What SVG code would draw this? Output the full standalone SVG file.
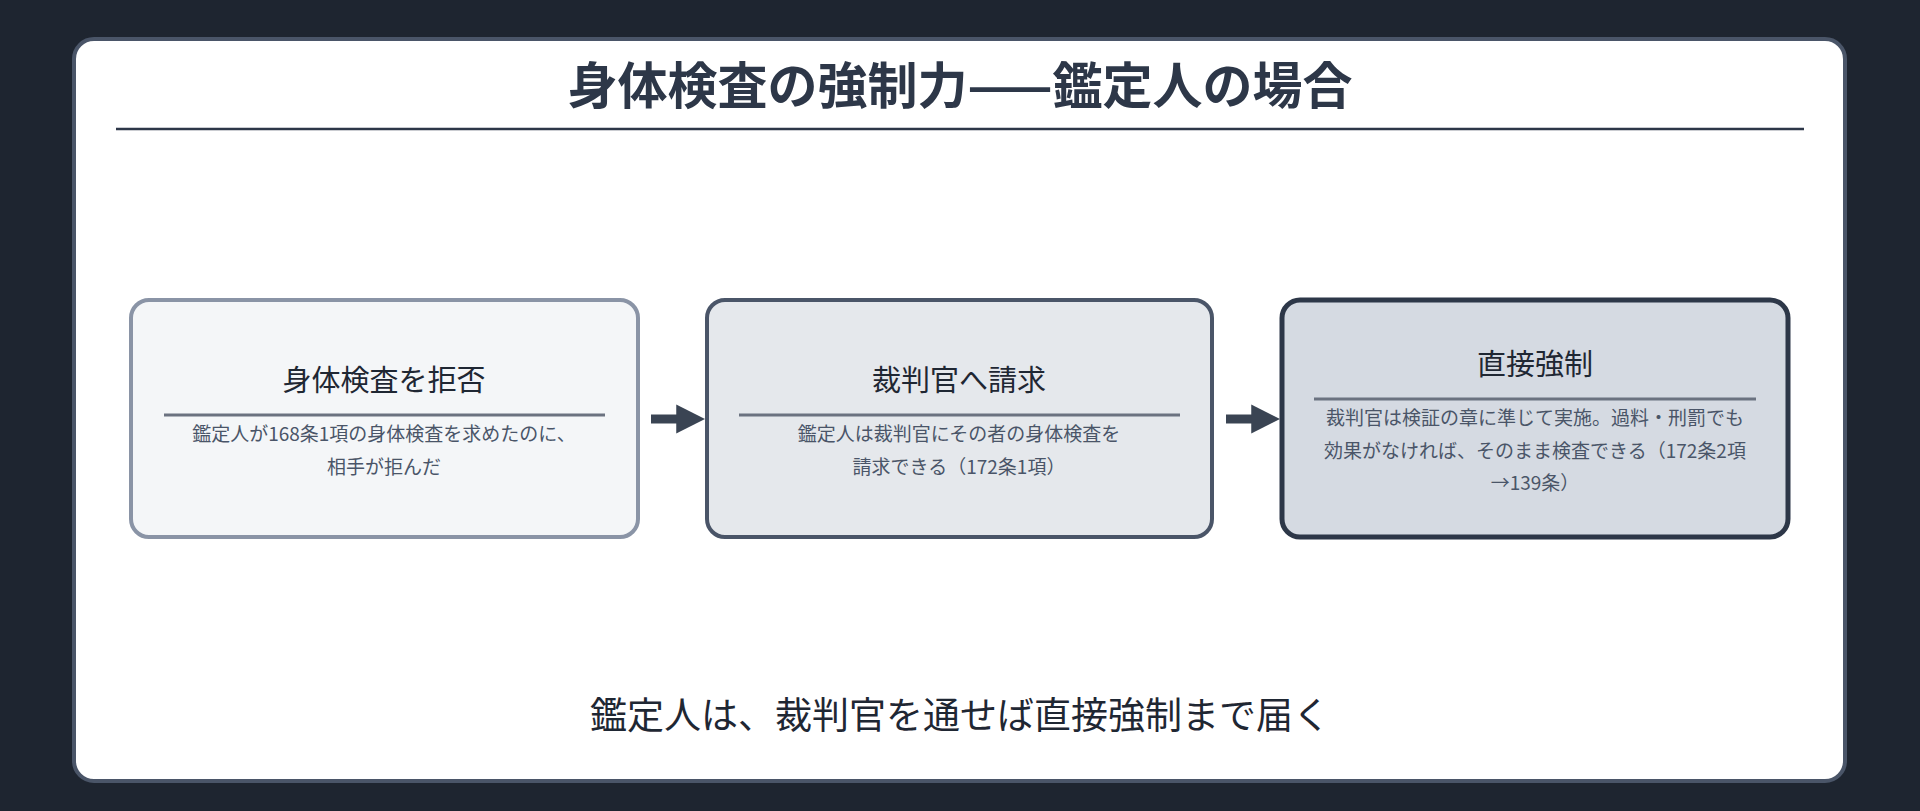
<svg xmlns="http://www.w3.org/2000/svg" width="1920" height="811" viewBox="0 0 1920 811">
<style>
text{font-family:"Noto Sans CJK JP","Noto Sans",sans-serif;text-anchor:middle}
.t{font-size:29px;fill:#1f2733}
.d{font-size:19px;fill:#4a5568}
.dv{stroke:#6b7280;stroke-width:3}
</style>
<defs><marker id="ah" viewBox="0 0 10 10" refX="2" refY="5" markerWidth="3.2" markerHeight="5" markerUnits="strokeWidth" orient="auto"><path d="M0,0L10,5L0,10z" fill="#3a4453"/></marker></defs>
<rect width="1920" height="811" fill="#1e2530"/>
<rect x="74" y="39" width="1771" height="742" rx="20" fill="#fff" stroke="#4a5568" stroke-width="4"/>
<text x="960" y="104" style="font-size:50px;font-weight:bold;fill:#2d3748">身体検査の強制力——鑑定人の場合</text>
<line x1="116" y1="129" x2="1804" y2="129" stroke="#2d3748" stroke-width="2.5"/>
<g id="n1"><rect x="131" y="300" width="507" height="237" rx="18" fill="#f4f6f8" stroke="#8a94a6" stroke-width="4"/>
<text class="t" x="384" y="391">身体検査を拒否</text><line class="dv" x1="164" y1="415" x2="605" y2="415"/>
<text class="d" x="384" y="441">鑑定人が168条1項の身体検査を求めたのに、</text><text class="d" x="384" y="474">相手が拒んだ</text></g>
<g id="n2"><rect x="707" y="300" width="505" height="237" rx="18" fill="#e5e8ec" stroke="#4a5568" stroke-width="4"/>
<text class="t" x="959" y="391">裁判官へ請求</text><line class="dv" x1="739" y1="415" x2="1180" y2="415"/>
<text class="d" x="959" y="441">鑑定人は裁判官にその者の身体検査を</text><text class="d" x="959" y="474">請求できる（172条1項）</text></g>
<g id="n3"><rect x="1282" y="300" width="506" height="237" rx="18" fill="#d5dae2" stroke="#2d3748" stroke-width="5"/>
<text class="t" x="1535" y="375">直接強制</text><line class="dv" x1="1314" y1="399" x2="1756" y2="399"/>
<text class="d" x="1535" y="425">裁判官は検証の章に準じて実施。過料・刑罰でも</text><text class="d" x="1535" y="458">効果がなければ、そのまま検査できる（172条2項</text><text class="d" x="1535" y="490">→139条）</text></g>
<g id="edges" stroke="#3a4453" stroke-width="9" fill="none">
<line x1="651" y1="419" x2="682" y2="419" marker-end="url(#ah)"/>
<line x1="1226" y1="419" x2="1257" y2="419" marker-end="url(#ah)"/>
</g>
<text x="960" y="729" style="font-size:37px;fill:#1f2733">鑑定人は、裁判官を通せば直接強制まで届く</text>
</svg>
